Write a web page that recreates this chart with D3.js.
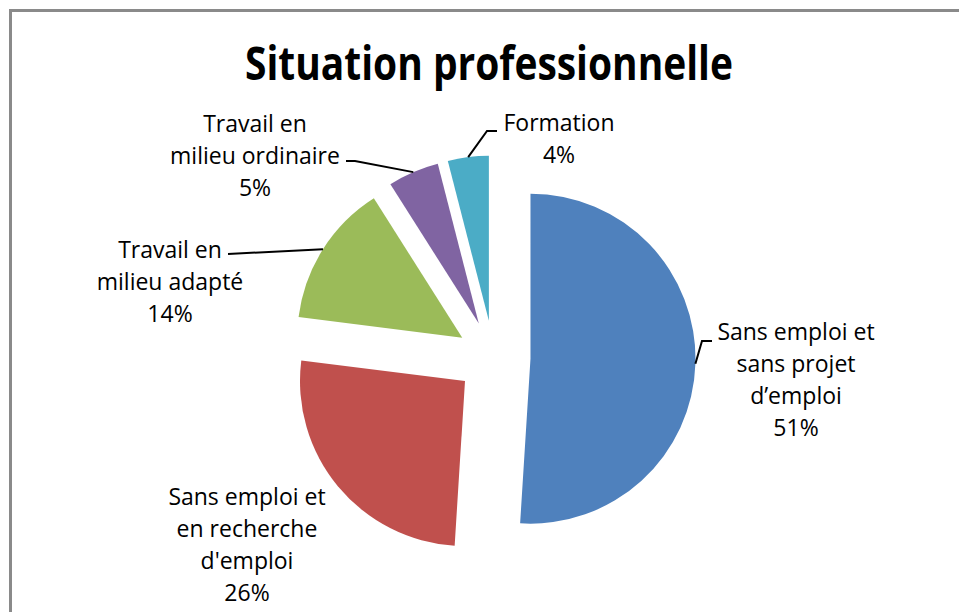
<!DOCTYPE html>
<html>
<head>
<meta charset="utf-8">
<script src="https://cdn.jsdelivr.net/npm/d3@7"></script>
<style>
  html, body { margin: 0; padding: 0; background: #fff; }
  svg { display: block; }
  text { font-family: "Open Sans", "Liberation Sans", sans-serif; fill: #000; }
</style>
</head>
<body>
<svg id="chart" width="959" height="612"></svg>
<script>
// data
const categories = [
    "Sans emploi et sans projet d'emploi",
    "Sans emploi et en recherche d'emploi",
    "Travail en milieu adapté",
    "Travail en milieu ordinaire",
    "Formation"
];
const values = [51, 26, 14, 5, 4];
const labelLines = [
    ["Sans emploi et", "sans projet", "d\u2019emploi"],
    ["Sans emploi et", "en recherche", "d'emploi"],
    ["Travail en", "milieu adapté"],
    ["Travail en", "milieu ordinaire"],
    ["Formation"]
];
const colors = ["#4f81bd", "#c0504d", "#9bbb59", "#8064a2", "#4bacc6"];
const title = "Situation professionnelle";

// layout (label anchors + leader elbows), not data
const labelAnchor = [[796, 340], [247, 505], [170, 258], [255, 132], [559, 131]];
const leaderPts = [
    [[702, 341], [712, 341]],
    null,
    [[228, 254], [228, 254]],
    [[355, 161], [346, 161]],
    [[487, 131], [497, 131]]
];

const svg = d3.select("#chart");
const cx = 493.5, cy = 357.5, radius = 165, explode = 37;
const lineH = 32;

/** frame */
svg.append("rect")
    .attr("x", 10.5).attr("y", 10.5)
    .attr("width", 1200).attr("height", 1200)
    .attr("fill", "none")
    .attr("stroke", "#8a8a8a")
    .attr("stroke-width", 3);

/** title */
svg.append("text")
    .attr("x", 489).attr("y", 80)
    .attr("text-anchor", "middle")
    .attr("font-size", 47)
    .attr("font-weight", "bold")
    .attr("textLength", 488)
    .attr("lengthAdjust", "spacingAndGlyphs")
    .text(title);

const data = categories.map((c, i) => ({ name: c, value: values[i], idx: i }));
const pie = d3.pie().sort(null).value(d => d.value);
const arcs = pie(data);

const arc = d3.arc().innerRadius(0).outerRadius(radius);
const edgeArc = d3.arc().innerRadius(radius).outerRadius(radius);

function offset(d) {
    const a = (d.startAngle + d.endAngle) / 2;
    return [Math.sin(a) * explode, -Math.cos(a) * explode];
}

const g = svg.append("g").attr("transform", `translate(${cx},${cy})`);

g.selectAll(".slice")
    .data(arcs)
    .join("path")
    .attr("class", "slice")
    .attr("transform", d => `translate(${offset(d)[0]},${offset(d)[1]})`)
    .attr("d", arc)
    .attr("fill", (d, i) => colors[i]);

/** leader lines */
arcs.forEach((d, i) => {
    if (!leaderPts[i]) return;
    const o = offset(d);
    const c = edgeArc.centroid(d);
    const start = [cx + c[0] + o[0], cy + c[1] + o[1]];
    const pts = [start].concat(leaderPts[i]);
    svg.append("path")
        .attr("d", d3.line()(pts))
        .attr("fill", "none")
        .attr("stroke", "#000")
        .attr("stroke-width", 2);
});

/** labels */
arcs.forEach((d, i) => {
    const lines = labelLines[i].concat([values[i] + "%"]);
    const t = svg.append("text")
        .attr("text-anchor", "middle")
        .attr("font-size", 23);
    lines.forEach((l, k) => {
        t.append("tspan")
            .attr("x", labelAnchor[i][0])
            .attr("y", labelAnchor[i][1] + k * lineH)
            .text(l);
    });
});
</script>
</body>
</html>
